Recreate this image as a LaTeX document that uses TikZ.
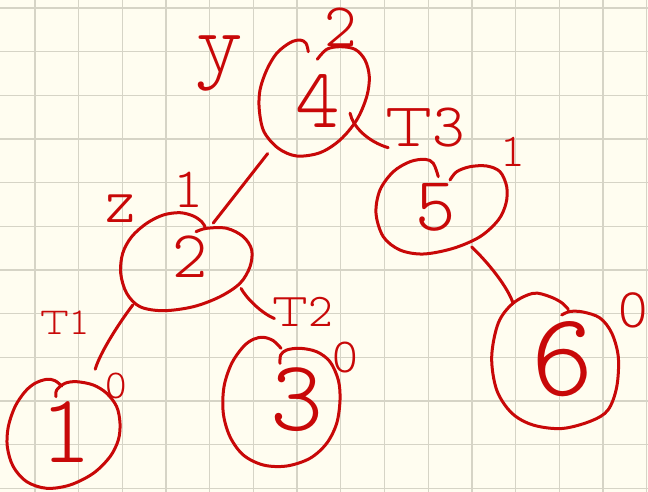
\documentclass[tikz,border=0pt]{standalone}
\usepackage{fontspec}
\IfFontExistsTF{lmmonoproplt10-regular.otf}
  {\newfontfamily\handfont{lmmonoproplt10-regular.otf}\newcommand\handscale{1}}
  {\newfontfamily\handfont{Fira Sans}\newcommand\handscale{0.887}}
\usetikzlibrary{calc,shapes.geometric}
\definecolor{paper}{RGB}{255,253,240}
\definecolor{gridc}{RGB}{214,212,198}
\definecolor{ink}{RGB}{200,8,8}
\newcommand\handsz[1]{\handfont\fontsize{\handscale\dimexpr#1pt\relax}{#1pt}\selectfont}
\begin{document}
\begin{tikzpicture}[x=1pt,y=-1pt,
  hand/.style={draw=ink, line width=3pt, line cap=round, line join=round},
  conn/.style={hand},
  vertex/.style={ellipse, draw=none, inner sep=0pt, outer sep=0pt},
  digit/.style={text=ink, inner sep=0pt},
  lbl/.style={text=ink, inner sep=0pt},
  gridline/.style={draw=gridc, line width=1.3pt}
]
\useasboundingbox (0,0) rectangle (648,492);
\fill[paper] (0,0) rectangle (648,492);
\foreach \k in {0,...,14} \draw[gridline] ({35+43.69*\k},0) -- ({35+43.69*\k},492);
\foreach \k in {0,...,11} \draw[gridline] (0,{8+43.66*\k}) -- (648,{8+43.66*\k});

% vertices (circles)
\node[vertex, minimum width=110pt, minimum height=116pt] (n4) at (314.3,98) {};
\node[vertex, minimum width=131pt, minimum height=98pt] (n2) at (186.2,261.7) {};
\node[vertex, minimum width=130.6pt, minimum height=94.6pt] (n5) at (441.3,206.7) {};
\node[vertex, minimum width=112.6pt, minimum height=109pt] (n1) at (63.7,433.8) {};
\node[vertex, minimum width=116.6pt, minimum height=128.6pt] (n3) at (281.7,401.7) {};
\node[vertex, minimum width=126.6pt, minimum height=135.2pt] (n6) at (555,361) {};

% hand-drawn outlines
\draw[hand] plot[smooth, tension=0.55] coordinates {(308.3,51.7) (306,43.3) (300,40) (290,42.7) (276.7,53.3) (266.7,70) (260,90) (259.3,110) (264,131.7) (278.3,148.3) (296.7,156) (320,152.7) (340,140) (356.7,120) (366.7,96.7) (369.3,76.7) (365,60) (355,49.3) (340,46.7) (326.7,49.3) (317.3,59.3)};
\draw[hand] plot[smooth, tension=0.55] coordinates {(196,231.7) (206.7,228.3) (226.7,228.3) (243.3,236.7) (251.7,250) (250,266.7) (240,283.3) (220,296.7) (193.3,306.7) (163.3,310.7) (140,306.7) (126.7,293.3) (120.7,273.3) (122.7,253.3) (131.7,236.7) (146.7,223.3) (163.3,215) (180,212.7) (193.3,216) (201.7,221.7) (205,226.7)};
\draw[hand] plot[smooth, tension=0.55] coordinates {(450,180) (456.7,171.7) (470,166.7) (486.7,166) (500,171.7) (506.7,186.7) (506,203.3) (498.3,220) (480,236.7) (453.3,248.3) (423.3,254) (400,250) (383.3,236.7) (376,213.3) (380,190) (393.3,171.7) (410,161.7) (425,159.3) (433.3,163.3) (438.3,176.7)};
\draw[hand] plot[smooth, tension=0.55] coordinates {(561.7,315) (570,311.5) (583,312) (600,318) (611.7,333) (618.3,357) (616.7,387) (608,410) (591,421) (562,428.5) (533,425) (511.7,413) (496.7,390) (491.7,357) (498.3,323) (513,303.3) (533.3,293.3) (550,296.7) (561.7,302.7) (568.3,309.3)};
\draw[hand] plot[smooth, tension=0.55] coordinates {(56,396.7) (56.7,390) (65,383.3) (76.7,381.7) (93.3,385) (106.7,393.3) (116.7,406.7) (120,423.3) (118.3,440) (110,456.7) (93.3,473.3) (70,485) (46.7,488.3) (26.7,481.7) (13.3,466.7) (7.3,446.7) (8.3,426.7) (15,406.7) (25,391.7) (35,383.3) (46.7,379.3) (55,380.7) (61.7,386)};
\draw[hand] plot[smooth, tension=0.55] coordinates {(280,363.3) (280.7,355) (286.7,350) (300,348.3) (316.7,351.7) (330,361.7) (338.3,380) (340,400) (336.7,423.3) (326.7,443.3) (310,458.3) (286.7,466) (263.3,465) (243.3,455) (230,436.7) (223.3,413.3) (224,386.7) (231.7,363.3) (243.3,346.7) (253.3,339.3) (263.3,337.3) (273.3,340.7) (281,348.3)};

% digits
\node[digit, font=\handsz{85}] (d4) at (318,101) {4};
\node[digit, font=\handsz{67}] (d2) at (190,257) {2};
\node[digit, font=\handsz{77}] (d5) at (436,207) {5};
\node[digit, font=\handsz{119}] (d6) at (563,359) {6};
\node[digit, font=\handsz{98}] (d1) at (66,432) {1};
\node[digit, font=\handsz{101}] (d3) at (297,400) {3};

% connectors
\draw[conn] ($(n4)!1.28!(n4.230)$) -- ($(n2)!0.89!(n2.55)$);
\draw[conn] ($(n4)!0.70!(n4.-23)$) .. controls +(3,14) and +(-20,-6) .. ($(n5)!1.49!(n5.132)$);
\draw[conn] ($(n2)!1.20!(n2.219)$) .. controls +(-13,17) and +(5,-17) .. ($(n1)!1.31!(n1.64)$);
\draw[conn] (n2.-26) .. controls +(5.3,9.7) and +(-13,-5.3) .. ($(n3)!1.30!(n3.95)$);
\draw[conn] ($(n5)!0.97!(n5.-53)$) .. controls +(16.3,15.3) and +(-5.3,-16.3) .. ($(n6)!1.08!(n6.126)$);

% labels
\node[lbl, font=\handsz{62}] (h4) at (341,27) {2};
\node[lbl, font=\handsz{84}] (ly) at (220,63) {y};
\node[lbl, font=\handsz{57}] (h2) at (188,190) {1};
\node[lbl, font=\handsz{65}] (lz) at (121,209) {z};
\node[lbl, font=\handsz{47}] (h5) at (513,152) {1};
\node[lbl, font=\handsz{41}] (h1) at (116,386) {0};
\node[lbl, font=\handsz{49}] (h3) at (345,358) {0};
\node[lbl, font=\handsz{56}] (h6) at (633,310) {0};
\node[lbl, font=\handsz{38}] (t1) at (65,323) {T1};
\node[lbl, font=\handsz{47}] (t2) at (303,312) {T2};
\node[lbl, font=\handsz{62}] (t3) at (425,128) {T3};
\end{tikzpicture}
\end{document}
